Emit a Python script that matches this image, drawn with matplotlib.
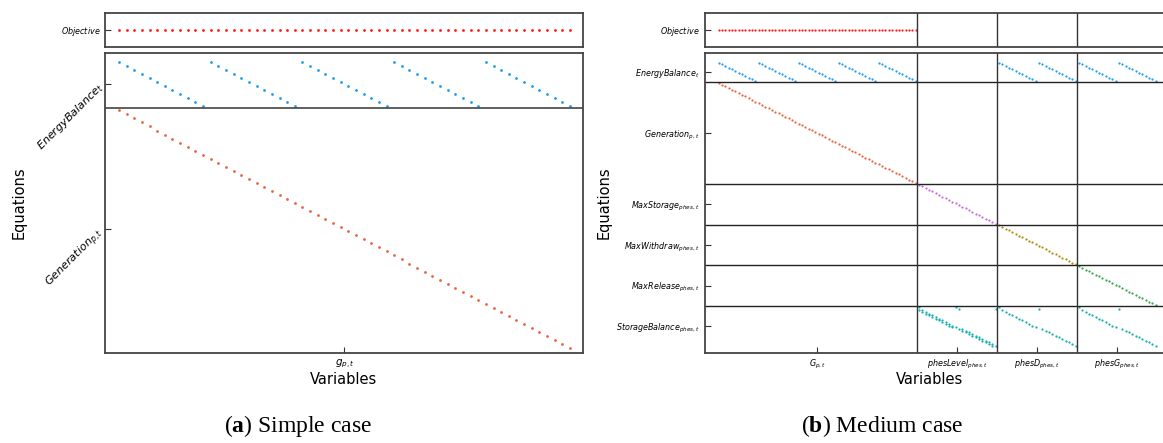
import numpy as np
import matplotlib
matplotlib.use("Agg")
import matplotlib.pyplot as plt

plt.rcParams['mathtext.fontset'] = 'custom'
plt.rcParams['mathtext.it'] = 'DejaVu Sans:italic'
plt.rcParams['mathtext.rm'] = 'DejaVu Sans'
plt.rcParams['mathtext.bf'] = 'Liberation Serif:bold'

# model dimensions (5 generators, 12 time steps, 2 pumped-hydro units)
n_gen = 5
n_t = 12
n_phes = 2

# simple case blocks
simple_var_names = ['$g_{p,t}$']
simple_var_sizes = [n_gen * n_t]
simple_eq_names = ['$EnergyBalance_t$', '$Generation_{p,t}$']
simple_eq_sizes = [n_t, n_gen * n_t]

# medium case blocks
medium_var_names = ['$G_{p,t}$', '$phesLevel_{phes,t}$', '$phesD_{phes,t}$', '$phesG_{phes,t}$']
medium_var_sizes = [n_gen * n_t, n_phes * n_t, n_phes * n_t, n_phes * n_t]
medium_eq_names = ['$EnergyBalance_t$', '$Generation_{p,t}$', '$MaxStorage_{phes,t}$',
                   '$MaxWithdraw_{phes,t}$', '$MaxRelease_{phes,t}$', '$StorageBalance_{phes,t}$']
medium_eq_sizes = [n_t, n_gen * n_t, n_phes * n_t, n_phes * n_t, n_phes * n_t, n_phes * n_t]

c_obj = '#ff1a1a'
c_eb = '#1e9cf0'
c_gen = '#e8653e'
c_maxs = '#c96bdc'
c_maxw = '#b38c12'
c_maxr = '#35a845'
c_sb = '#12b0b0'

W, H = 1163, 443


def rect(l, t, r, b):
    return [l / W, 1 - b / H, (r - l) / W, (b - t) / H]


def energy_balance(n_units, offset):
    # variable (u, t) -> row t
    rows, cols = [], []
    for u in range(n_units):
        for t in range(n_t):
            rows.append(t)
            cols.append(offset + u * n_t + t)
    return rows, cols


def diagonal(n, row0, col0):
    return list(range(row0, row0 + n)), list(range(col0, col0 + n))


def storage_rows():
    # first time step of each unit is written first
    order = [(s, 0) for s in range(n_phes)] + [(s, t) for s in range(n_phes) for t in range(1, n_t)]
    return order


def setup_axes(ax, fs):
    for sp in ax.spines.values():
        sp.set_color('#444444')
        sp.set_linewidth(1.3)
    ax.tick_params(direction='in', length=4, width=0.8, color='#333333',
                   labelsize=fs, top=False, right=False)


fig = plt.figure(figsize=(W / 100, H / 100), dpi=100)

# ---------------- simple case ----------------
ax_o = fig.add_axes(rect(105, 13, 583, 47))
ax_m = fig.add_axes(rect(105, 53, 583, 353))
nv = sum(simple_var_sizes)
ax_o.plot(np.arange(nv), np.zeros(nv), 'o', color=c_obj, ms=2.0, mew=0)
ax_o.set_xlim(-1.83, 60.7)
ax_o.set_ylim(1, -1)
ax_o.set_xticks([])
ax_o.set_yticks([0])
ax_o.set_yticklabels(['$Objective$'])
setup_axes(ax_o, 5.8)

r, c = energy_balance(n_gen, 0)
ax_m.plot(c, r, 'o', color=c_eb, ms=2.0, mew=0)
r, c = diagonal(n_gen * n_t, n_t, 0)
ax_m.plot(c, r, 'o', color=c_gen, ms=2.0, mew=0)
ax_m.axhline(simple_eq_sizes[0] - 0.5, color='#444444', lw=1.2)
ax_m.set_xlim(-1.83, 60.7)
ax_m.set_ylim(72.2, -2.23)
ax_m.set_xticks([(simple_var_sizes[0] - 1) / 2])
ax_m.set_xticklabels(simple_var_names, fontsize=7.5)
eq_starts = np.cumsum([0] + simple_eq_sizes[:-1])
ax_m.set_yticks([s + (n - 1) / 2 for s, n in zip(eq_starts, simple_eq_sizes)])
ax_m.set_yticklabels(simple_eq_names, rotation=45, ha='right', rotation_mode='anchor', fontsize=8)
setup_axes(ax_m, 8)
ax_m.tick_params(axis='x', labelsize=7.5)
ax_m.set_xlabel('Variables', fontsize=10.5)
ax_m.set_ylabel('Equations', fontsize=10.5)
ax_m.yaxis.set_label_coords(-78 / 478, 0.5)
ax_m.xaxis.set_label_coords(0.5, -0.065)

# ---------------- medium case ----------------
ax_o2 = fig.add_axes(rect(704.5, 13, 1165.7, 47))
ax_m2 = fig.add_axes(rect(704.5, 53, 1165.7, 353))
var_starts = np.cumsum([0] + medium_var_sizes[:-1])
eq_starts2 = np.cumsum([0] + medium_eq_sizes[:-1])
xl = (-4.26, 134.0)

ax_o2.plot(np.arange(medium_var_sizes[0]), np.zeros(medium_var_sizes[0]), 'o', color=c_obj, ms=1.6, mew=0)
ax_o2.set_xlim(*xl)
ax_o2.set_ylim(1, -1)
ax_o2.set_xticks([])
ax_o2.set_yticks([0])
ax_o2.set_yticklabels(['$Objective$'])
setup_axes(ax_o2, 5.8)

# energy balance: generation plus pump/generate of storage
r, c = energy_balance(n_gen, 0)
ax_m2.plot(c, r, 'o', color=c_eb, ms=1.6, mew=0)
for k in (2, 3):
    r, c = energy_balance(n_phes, var_starts[k])
    ax_m2.plot(c, r, 'o', color=c_eb, ms=1.6, mew=0)
# generation
r, c = diagonal(medium_var_sizes[0], eq_starts2[1], 0)
ax_m2.plot(c, r, 'o', color=c_gen, ms=1.6, mew=0)
# max storage / withdraw / release
for k, col in zip((1, 2, 3), (c_maxs, c_maxw, c_maxr)):
    r, c = diagonal(medium_var_sizes[k], eq_starts2[k + 1], var_starts[k])
    ax_m2.plot(c, r, 'o', color=col, ms=1.6, mew=0)
# storage balance
rows, cols = [], []
for i, (s, t) in enumerate(storage_rows()):
    row = eq_starts2[5] + i
    prev = (t - 1) % n_t
    rows += [row, row, row, row]
    cols += [var_starts[1] + s * n_t + t, var_starts[1] + s * n_t + prev,
             var_starts[2] + s * n_t + t, var_starts[3] + s * n_t + t]
ax_m2.plot(cols, rows, 'o', color=c_sb, ms=1.6, mew=0)

for b in np.cumsum(medium_eq_sizes)[:-1]:
    ax_m2.axhline(b - 0.5, color='#222222', lw=1.0)
for b in np.cumsum(medium_var_sizes)[:-1]:
    ax_m2.axvline(b - 0.5, color='#333333', lw=1.0)
    ax_o2.axvline(b - 0.5, color='#333333', lw=1.0)

ax_m2.set_xlim(*xl)
ax_m2.set_ylim(171.2, -5.6)
ax_m2.set_xticks([s + (n - 1) / 2 for s, n in zip(var_starts, medium_var_sizes)])
ax_m2.set_xticklabels(medium_var_names)
ax_m2.set_yticks([s + (n - 1) / 2 for s, n in zip(eq_starts2, medium_eq_sizes)])
ax_m2.set_yticklabels(medium_eq_names)
setup_axes(ax_m2, 5.8)
ax_m2.set_xlabel('Variables', fontsize=10.5)
ax_m2.set_ylabel('Equations', fontsize=10.5)
ax_m2.yaxis.set_label_coords((612 - 704.5) / 461.2, 0.5)
ax_m2.xaxis.set_label_coords((930 - 704.5) / 461.2, -0.065)

# captions
fig.text(298 / W, 1 - 426 / H, r'($\mathbf{a}$) Simple case', family='Liberation Serif',
         fontsize=17, ha='center', va='center')
fig.text(882 / W, 1 - 426 / H, r'($\mathbf{b}$) Medium case', family='Liberation Serif',
         fontsize=17, ha='center', va='center')

fig.savefig('out.png', dpi=100)
